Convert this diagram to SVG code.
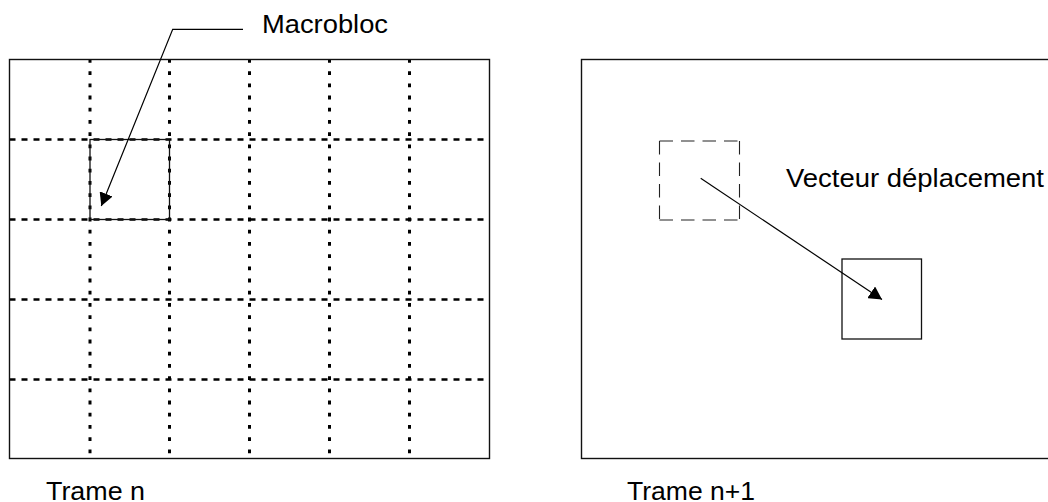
<svg xmlns="http://www.w3.org/2000/svg" width="1048" height="502" viewBox="0 0 1048 502">
  <style>
    .frame { fill: none; stroke: #111; stroke-width: 1.4; }
    .grid-v { stroke: #000; stroke-width: 3; stroke-dasharray: 3.8 8.4; }
    .grid-h { stroke: #000; stroke-width: 2.6; stroke-dasharray: 6 6; }
    .block { fill: none; stroke: #111; stroke-width: 1.3; }
    .block-dash { stroke: #222; stroke-width: 1.1; stroke-dasharray: 13.5 8; }
    .conn { fill: none; stroke: #000; stroke-width: 1.2; }
    .label { font-family: "Liberation Sans", Arial, sans-serif; font-size: 26px; fill: #000; }
  </style>
  <defs>
    <marker id="head" viewBox="0 0 13 14" refX="13" refY="7" markerWidth="13" markerHeight="14" markerUnits="userSpaceOnUse" orient="auto">
      <path d="M0,0 L13,7 L0,14 z" fill="#000"/>
    </marker>
  </defs>

  <!-- Frame n: 6 x 5 grid of macroblocks -->
  <g id="frame-n">
    <g class="grid">
      <line class="grid-v" x1="90" y1="59" x2="90" y2="458"/>
      <line class="grid-v" x1="169.5" y1="59" x2="169.5" y2="458"/>
      <line class="grid-v" x1="249.5" y1="59" x2="249.5" y2="458"/>
      <line class="grid-v" x1="329.5" y1="59" x2="329.5" y2="458"/>
      <line class="grid-v" x1="409.5" y1="59" x2="409.5" y2="458"/>
      <line class="grid-h" x1="9.5" y1="139.5" x2="489.5" y2="139.5"/>
      <line class="grid-h" x1="9.5" y1="219.5" x2="489.5" y2="219.5"/>
      <line class="grid-h" x1="9.5" y1="299.5" x2="489.5" y2="299.5"/>
      <line class="grid-h" x1="9.5" y1="379.5" x2="489.5" y2="379.5"/>
    </g>
    <rect class="frame" x="9.5" y="59.5" width="480" height="399"/>
    <text class="label" x="46" y="500" textLength="99" lengthAdjust="spacingAndGlyphs">Trame n</text>
  </g>

  <!-- Selected macroblock in frame n -->
  <g id="macroblock">
    <rect class="block" x="90" y="139.5" width="79.5" height="80"/>
    <text class="label" x="262" y="33.3" textLength="126" lengthAdjust="spacingAndGlyphs">Macrobloc</text>
  </g>

  <!-- Frame n+1 (extends past the right edge) -->
  <g id="frame-n1">
    <rect class="frame" x="581.5" y="59.5" width="480" height="399"/>
    <text class="label" x="627" y="500" textLength="128" lengthAdjust="spacingAndGlyphs">Trame n+1</text>
  </g>

  <!-- Former position of the block (dashed) -->
  <g id="block-previous">
    <line class="block-dash" x1="659.5" y1="141" x2="739.5" y2="141"/>
    <line class="block-dash" x1="659.5" y1="220" x2="739.5" y2="220"/>
    <line class="block-dash" x1="659.5" y1="141" x2="659.5" y2="220"/>
    <line class="block-dash" x1="739.5" y1="141" x2="739.5" y2="220"/>
  </g>

  <!-- New position of the block -->
  <g id="block-current">
    <rect class="block" x="842" y="259" width="79.5" height="80"/>
  </g>

  <g id="vector-label">
    <text class="label" x="786" y="186.7" textLength="258" lengthAdjust="spacingAndGlyphs">Vecteur déplacement</text>
  </g>

  <!-- Connectors -->
  <g id="connectors">
    <polyline class="conn" points="243,29.3 172.7,29.3 101.3,206" marker-end="url(#head)"/>
    <line class="conn" x1="700.7" y1="178.3" x2="882" y2="299.5" marker-end="url(#head)"/>
  </g>
</svg>
